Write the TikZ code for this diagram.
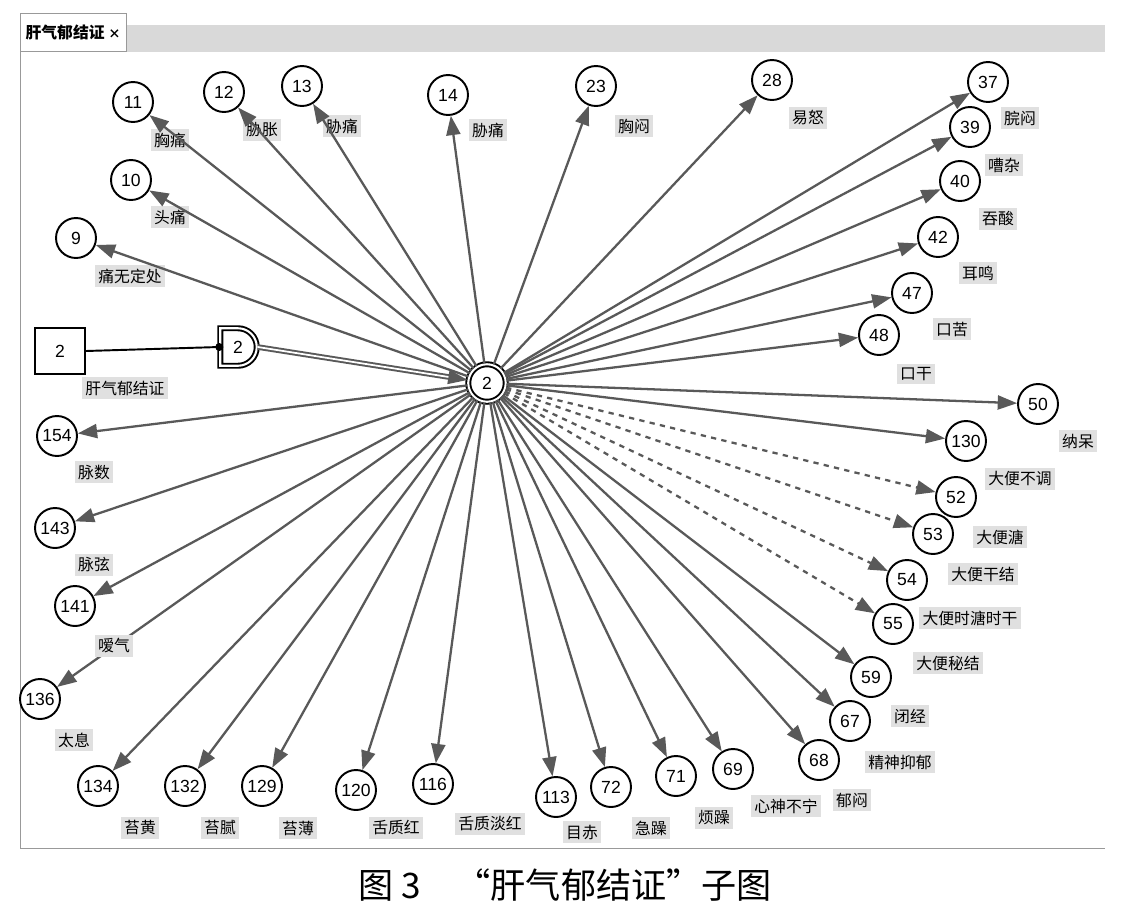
\documentclass[tikz,border=0pt]{standalone}
\usepackage{fontspec}
\setmainfont{Liberation Sans}
\newfontfamily\cjk{Noto Sans CJK SC}
\usetikzlibrary{arrows.meta,shapes.misc}
\begin{document}
\begin{tikzpicture}[x=0.02cm,y=-0.02cm,
  nd/.style={circle,draw=black,line width=1.1pt,fill=white,minimum size=0.8cm,inner sep=0pt,font=\fontsize{10}{10}\selectfont},
  lb/.style={fill=black!12,inner sep=2pt,font=\cjk\fontsize{9}{9}\selectfont},
  ed/.style={draw=black!65,line width=1.3pt,-{Triangle[length=11pt,width=8pt]}}]
\useasboundingbox (0,0) rectangle (1130,917);
\fill[white] (0,0) rectangle (1130,917);
% tab bar
\fill[black!15] (20,25) rectangle (1105,52);
\node[fill=white,draw=black!40,anchor=south west,minimum height=27pt*0.8,inner sep=3pt,font=\cjk\bfseries\fontsize{9}{9}\selectfont] (tab) at (20,52) {肝气郁结证 {\fontsize{7}{7}\selectfont ×}};
\draw[black!40] (20,52) -- (20,848) -- (1105,848);
% hub
\node[circle,draw=black,line width=1.1pt,double,double distance=1.2pt,fill=white,minimum size=0.75cm,inner sep=0pt,font=\fontsize{10}{10}\selectfont] (hub) at (487,383) {2};
\foreach \n/\x/\y/\t/\lx/\ly/\s in {
11/133/102/胸痛/170/140/solid,12/224/92/胁胀/262/130/solid,13/302/86/胁痛/342/126/solid,
14/448/95/胁痛/488/130/solid,23/596/86/胸闷/634/126/solid,28/772/80/易怒/808/118/solid,
37/988/82/脘闷/1020/118/solid,39/970/127/嘈杂/1004/165/solid,40/960/181/吞酸/998/219/solid,
42/938/237/耳鸣/978/273/solid,47/912/293/口苦/952/329/solid,48/879/335/口干/916/374/solid,
50/1038/404/纳呆/1078/441/solid,130/966/441/大便不调/1020/479/solid,52/956/497/大便溏/1000/537/dashed,
53/933/534/大便干结/983/574/dashed,54/907/580/大便时溏时干/970/618/dashed,55/893/624/大便秘结/948/663/dashed,
59/871/677/闭经/910/716/solid,67/850/721/精神抑郁/900/762/solid,68/819/760/郁闷/852/800/solid,
69/733/769/心神不宁/786/806/solid,71/676/776/烦躁/714/818/solid,72/611/787/急躁/651/828/solid,
113/556/797/目赤/582/832/solid,116/433/784/舌质淡红/490/824/solid,120/356/790/舌质红/396/828/solid,
129/262/786/苔薄/298/828/solid,132/185/786/苔腻/220/828/solid,134/98/786/苔黄/140/828/solid,
136/40/699/太息/74/740/solid,141/75/606/嗳气/114/646/solid,143/55/528/脉弦/94/565/solid,
154/57/436/脉数/94/472/solid,9/76/238/痛无定处/130/276/solid,10/131/180/头痛/170/217/solid}{
  \node[nd] (n\n) at (\x,\y) {\n};
  \node[lb] (l\n) at (\lx,\ly) {\t};
  \draw[ed,\s] (hub) -- (n\n);
}
% fix label overlaps: 心神不宁 is below 69/68 region
% left cluster
\node[draw=black,line width=1.1pt,fill=white,minimum width=1cm,minimum height=0.92cm,font=\fontsize{10}{10}\selectfont] (sq) at (60,351) {2};
\node[lb] (lsq) at (125,388) {肝气郁结证};
\node[draw=black,line width=1.1pt,double,double distance=1.2pt,fill=white,shape=rounded rectangle,rounded rectangle left arc=none,minimum width=0.8cm,minimum height=0.75cm,inner sep=1pt,font=\fontsize{10}{10}\selectfont] (dn) at (238,347) {2};
\draw[line width=1.1pt] (sq.east) -- (dn.west);
\fill (dn.west) circle (4);
\draw[black!65,line width=1.1pt,double,double distance=1pt,-{Triangle[length=11pt,width=8pt]}] (dn.east) -- (hub);
\node[font=\cjk\fontsize{20}{20}\selectfont] (cap) at (565,885) {图 3\quad “肝气郁结证”子图};
\end{tikzpicture}
\end{document}
